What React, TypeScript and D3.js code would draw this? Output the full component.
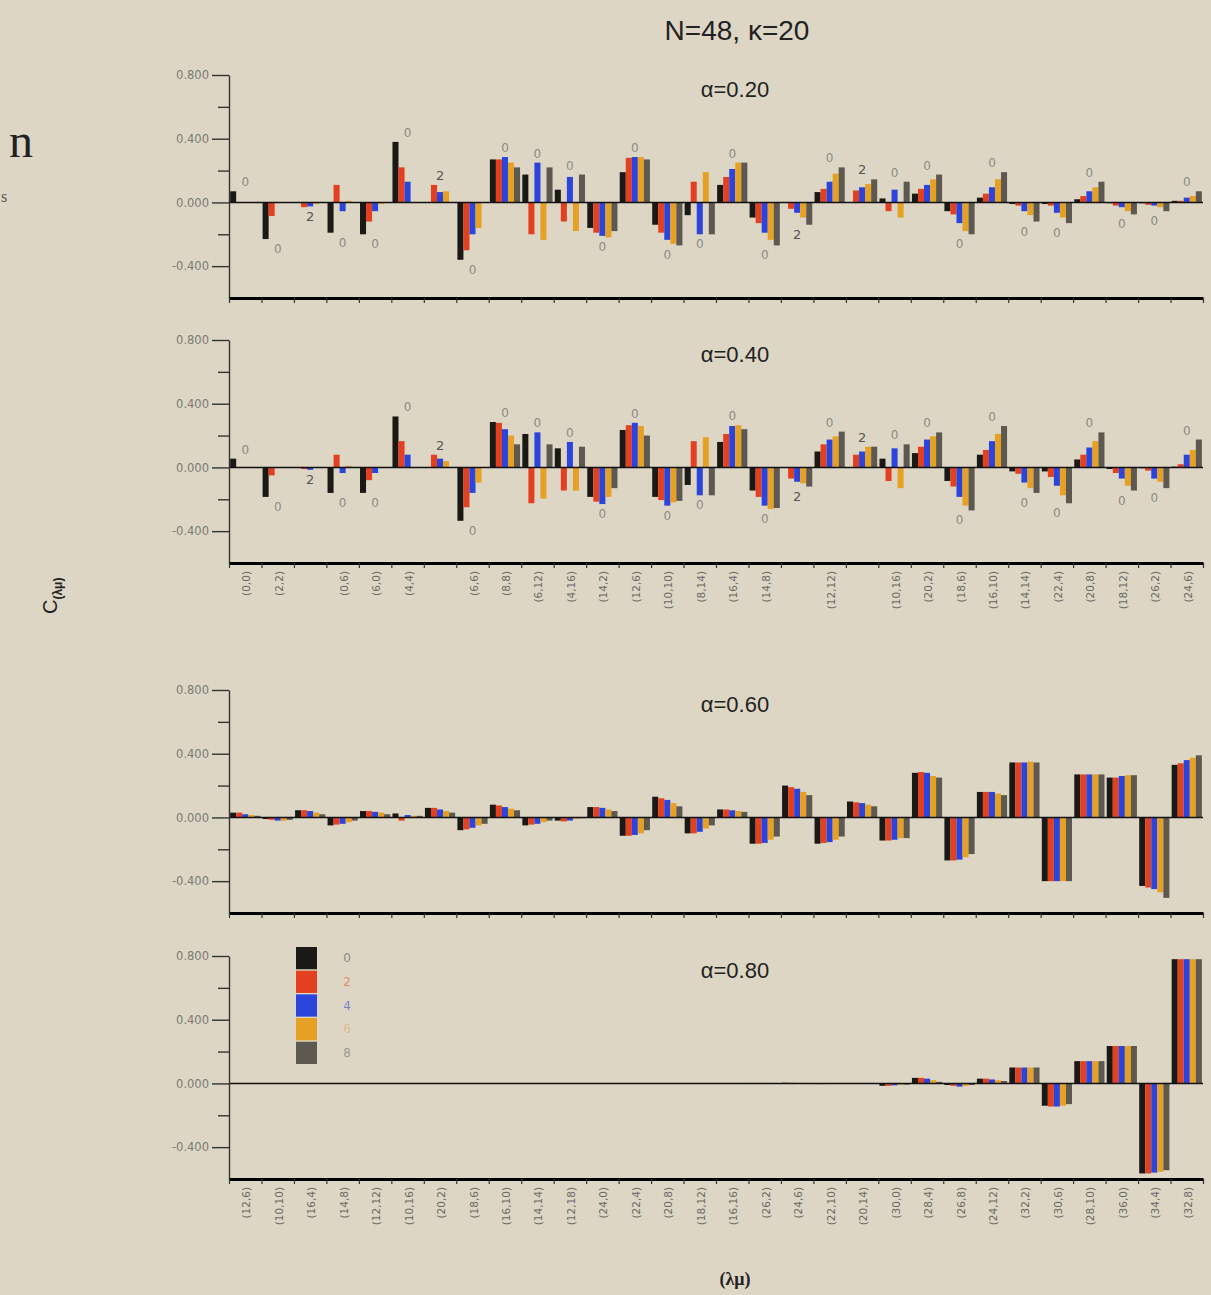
import { useEffect, useRef } from 'react';
import * as d3 from 'd3';

// legend series (colour order inside every group)
const series = ['0', '2', '4', '6', '8'];
const seriesColors = ['#1b1915', '#e2401f', '#2b44dc', '#e6a024', '#5d5850'];
const legendTextColors = ['#8a8a88', '#d9906e', '#7f7fce', '#d8c08a', '#9a9890'];

const topLabels = [
  '(0,0)', '(2,2)', '', '(0,6)', '(6,0)', '(4,4)', '', '(6,6)', '(8,8)', '(6,12)',
  '(4,16)', '(14,2)', '(12,6)', '(10,10)', '(8,14)', '(16,4)', '(14,8)', '', '(12,12)', '',
  '(10,16)', '(20,2)', '(18,6)', '(16,10)', '(14,14)', '(22,4)', '(20,8)', '(18,12)', '(26,2)', '(24,6)',
];

const bottomLabels = [
  '(12,6)', '(10,10)', '(16,4)', '(14,8)', '(12,12)', '(10,16)', '(20,2)', '(18,6)', '(16,10)', '(14,14)',
  '(12,18)', '(24,0)', '(22,4)', '(20,8)', '(18,12)', '(16,16)', '(26,2)', '(24,6)', '(22,10)', '(20,14)',
  '(30,0)', '(28,4)', '(26,8)', '(24,12)', '(32,2)', '(30,6)', '(28,10)', '(36,0)', '(34,4)', '(32,8)',
];

const yMajor = [0.8, 0.4, 0, -0.4];
const yMinor = [0.6, 0.2, -0.2];

const alpha020 = [
  [0.07, 0, 0, 0, 0], [-0.23, -0.085, 0, 0, 0], [0, -0.03, -0.025, -0.01, 0],
  [-0.19, 0.11, -0.055, 0.01, 0], [-0.2, -0.12, -0.055, -0.01, 0], [0.38, 0.22, 0.13, 0, 0],
  [0, 0.11, 0.065, 0.07, 0], [-0.36, -0.3, -0.2, -0.16, 0], [0.27, 0.27, 0.285, 0.25, 0.22],
  [0.175, -0.2, 0.25, -0.235, 0.22], [0.08, -0.12, 0.16, -0.18, 0.175], [-0.16, -0.19, -0.21, -0.22, -0.18],
  [0.19, 0.28, 0.285, 0.285, 0.27], [-0.14, -0.19, -0.235, -0.26, -0.27], [-0.08, 0.13, -0.2, 0.19, -0.2],
  [0.11, 0.16, 0.21, 0.25, 0.25], [-0.095, -0.13, -0.19, -0.235, -0.27], [0, -0.04, -0.065, -0.095, -0.14],
  [0.065, 0.085, 0.13, 0.18, 0.22], [0, 0.075, 0.095, 0.115, 0.145], [0.025, -0.055, 0.08, -0.095, 0.13],
  [0.055, 0.085, 0.11, 0.145, 0.175], [-0.055, -0.075, -0.13, -0.18, -0.2], [0.03, 0.055, 0.095, 0.145, 0.19],
  [-0.01, -0.02, -0.055, -0.08, -0.12], [-0.01, -0.02, -0.065, -0.095, -0.13], [0.02, 0.04, 0.07, 0.095, 0.13],
  [-0.005, -0.02, -0.03, -0.055, -0.075], [-0.005, -0.015, -0.02, -0.03, -0.055], [0.01, 0.01, 0.03, 0.04, 0.07],
];

const alpha040 = [
  [0.055, 0, 0, 0, 0], [-0.185, -0.05, 0, 0, 0], [0, -0.01, -0.015, 0, 0],
  [-0.16, 0.08, -0.035, 0.01, 0], [-0.16, -0.08, -0.035, 0, 0], [0.32, 0.165, 0.08, 0, 0],
  [0, 0.08, 0.055, 0.04, 0], [-0.335, -0.25, -0.16, -0.095, 0], [0.285, 0.28, 0.24, 0.2, 0.145],
  [0.21, -0.225, 0.22, -0.195, 0.145], [0.12, -0.145, 0.16, -0.145, 0.13], [-0.185, -0.215, -0.23, -0.185, -0.13],
  [0.235, 0.265, 0.28, 0.26, 0.2], [-0.185, -0.205, -0.24, -0.22, -0.21], [-0.11, 0.165, -0.175, 0.19, -0.175],
  [0.16, 0.21, 0.26, 0.265, 0.24], [-0.145, -0.185, -0.24, -0.26, -0.255], [0, -0.07, -0.09, -0.1, -0.12],
  [0.1, 0.145, 0.175, 0.195, 0.225], [0, 0.08, 0.1, 0.13, 0.13], [0.055, -0.085, 0.12, -0.13, 0.145],
  [0.09, 0.13, 0.175, 0.195, 0.22], [-0.085, -0.12, -0.185, -0.24, -0.27], [0.08, 0.11, 0.165, 0.21, 0.26],
  [-0.025, -0.04, -0.095, -0.13, -0.16], [-0.025, -0.06, -0.115, -0.175, -0.225], [0.05, 0.08, 0.125, 0.165, 0.22],
  [-0.01, -0.035, -0.07, -0.115, -0.145], [-0.005, -0.02, -0.07, -0.09, -0.13], [0.005, 0.02, 0.08, 0.11, 0.175],
];

const alpha060 = [
  [0.03, 0.03, 0.02, 0.015, 0.01], [-0.01, -0.015, -0.02, -0.02, -0.015], [0.045, 0.045, 0.04, 0.03, 0.02],
  [-0.05, -0.045, -0.04, -0.03, -0.02], [0.04, 0.04, 0.035, 0.03, 0.02], [0.025, -0.02, 0.015, 0.01, 0.01],
  [0.06, 0.06, 0.05, 0.04, 0.03], [-0.08, -0.075, -0.065, -0.05, -0.04], [0.08, 0.075, 0.065, 0.055, 0.045],
  [-0.05, -0.045, -0.04, -0.03, -0.02], [-0.02, -0.025, -0.02, -0.01, -0.005], [0.065, 0.065, 0.06, 0.05, 0.04],
  [-0.115, -0.115, -0.11, -0.1, -0.08], [0.13, 0.12, 0.11, 0.09, 0.07], [-0.1, -0.1, -0.09, -0.07, -0.05],
  [0.05, 0.05, 0.045, 0.04, 0.035], [-0.165, -0.165, -0.16, -0.14, -0.12], [0.2, 0.19, 0.18, 0.16, 0.14],
  [-0.165, -0.16, -0.155, -0.14, -0.12], [0.1, 0.095, 0.09, 0.08, 0.07], [-0.145, -0.145, -0.14, -0.13, -0.13],
  [0.28, 0.285, 0.28, 0.26, 0.25], [-0.27, -0.27, -0.265, -0.25, -0.23], [0.16, 0.16, 0.16, 0.15, 0.14],
  [0.345, 0.345, 0.345, 0.35, 0.345], [-0.4, -0.4, -0.4, -0.4, -0.4], [0.27, 0.27, 0.27, 0.27, 0.27],
  [0.25, 0.25, 0.26, 0.265, 0.265], [-0.43, -0.44, -0.45, -0.47, -0.505], [0.33, 0.34, 0.36, 0.375, 0.39],
];

const alpha080 = [
  [0, 0, 0, 0, 0], [0, 0, 0, 0, 0], [0, 0, 0, 0, 0], [0, 0, 0, 0, 0], [0, 0, 0, 0, 0],
  [0, 0, 0, 0, 0], [0, 0, 0, 0, 0], [0, 0, 0, 0, 0], [0, 0, 0, 0, 0], [0, 0, 0, 0, 0],
  [0, 0, 0, 0, 0], [0, 0, 0, 0, 0], [0, 0, 0, 0, 0], [0, 0, 0, 0, 0], [0, 0, 0, 0, 0],
  [0, 0, 0, 0, 0], [0.003, 0.003, 0.003, 0.002, 0.002], [0.004, 0.004, 0.003, 0.003, 0.002],
  [-0.004, -0.004, -0.003, -0.003, -0.002], [0.003, 0.003, 0.003, 0.002, 0.002],
  [-0.015, -0.015, -0.012, -0.01, -0.008], [0.035, 0.035, 0.03, 0.02, 0.01],
  [-0.01, -0.015, -0.02, -0.015, -0.01], [0.03, 0.03, 0.025, 0.02, 0.015],
  [0.1, 0.1, 0.1, 0.1, 0.1], [-0.14, -0.145, -0.145, -0.14, -0.13],
  [0.14, 0.14, 0.14, 0.14, 0.14], [0.235, 0.235, 0.235, 0.235, 0.235],
  [-0.565, -0.565, -0.56, -0.555, -0.545], [0.78, 0.78, 0.78, 0.78, 0.78],
];

// [slot, text, side] annotations on the two upper panels
const notes: [number, string, string][] = [
  [0, '0', 'up'], [1, '0', 'down'], [2, '2', 'down'], [3, '0', 'down'], [4, '0', 'down'],
  [5, '0', 'up'], [6, '2', 'up'], [7, '0', 'down'], [8, '0', 'up'], [9, '0', 'up'],
  [10, '0', 'up'], [11, '0', 'down'], [12, '0', 'up'], [13, '0', 'down'], [14, '0', 'down'],
  [15, '0', 'up'], [16, '0', 'down'], [17, '2', 'down'], [18, '0', 'up'], [19, '2', 'up'],
  [20, '0', 'up'], [21, '0', 'up'], [22, '0', 'down'], [23, '0', 'up'], [24, '0', 'down'],
  [25, '0', 'down'], [26, '0', 'up'], [27, '0', 'down'], [28, '0', 'down'], [29, '0', 'up'],
];

const panels = [
  { title: 'α=0.20', values: alpha020, notes, labels: null as string[] | null, top: 75, legend: false },
  { title: 'α=0.40', values: alpha040, notes, labels: topLabels, top: 340, legend: false },
  { title: 'α=0.60', values: alpha060, notes: [] as [number, string, string][], labels: null, top: 690, legend: false },
  { title: 'α=0.80', values: alpha080, notes: [] as [number, string, string][], labels: bottomLabels, top: 956, legend: true },
];

export default function App() {
  const svgRef = useRef<SVGSVGElement>(null);

  useEffect(() => {
    document.body.style.margin = '0';
    document.body.style.background = '#ddd6c4';
    if (!svgRef.current) return;

    const W = 1211, H = 1295;
    const left = 229, right = 1203, ph = 223;
    const svg = d3.select(svgRef.current);
    svg.selectAll('*').remove();

    svg.append('rect').attr('width', W).attr('height', H).attr('fill', '#ddd6c4');

    const x0 = d3.scaleBand<number>().domain(d3.range(30)).range([left, right]).paddingInner(0.07).paddingOuter(0.035);
    const x1 = d3.scaleBand<number>().domain(d3.range(series.length)).range([0, x0.bandwidth()]);
    const xb = d3.scaleLinear().domain([0, 30]).range([left, right]);

    // title
    svg.append('text')
      .attr('x', 737).attr('y', 40)
      .attr('text-anchor', 'middle')
      .attr('font-family', 'Liberation Sans, Arial, sans-serif')
      .attr('font-size', 28).attr('fill', '#222')
      .text('N=48, κ=20');

    panels.forEach(p => {
      const y = d3.scaleLinear().domain([-0.6, 0.8]).range([p.top + ph, p.top]);
      const g = svg.append('g');

      // bars
      p.values.forEach((group, i) => {
        g.selectAll(null)
          .data(group)
          .enter().append('rect')
          .attr('x', (_, j) => (x0(i) as number) + (x1(j) as number))
          .attr('width', x1.bandwidth())
          .attr('y', d => y(Math.max(0, d)))
          .attr('height', d => Math.abs(y(d) - y(0)))
          .attr('fill', (_, j) => seriesColors[j]);
      });

      // zero line
      g.append('line')
        .attr('x1', left).attr('x2', right)
        .attr('y1', y(0)).attr('y2', y(0))
        .attr('stroke', '#111').attr('stroke-width', 1.6);

      // y axis
      const ya = g.append('g')
        .attr('transform', `translate(${left},0)`)
        .call(d3.axisLeft(y).tickValues(yMajor).tickSize(17).tickSizeOuter(0).tickFormat(d => (d as number).toFixed(3)));
      ya.select('.domain').attr('stroke', '#333').attr('stroke-width', 1.4);
      ya.selectAll('line').attr('stroke', '#333').attr('stroke-width', 1.4);
      ya.selectAll('text')
        .attr('fill', '#7a7a76')
        .attr('font-size', 11.5)
        .attr('font-family', 'DejaVu Sans, sans-serif');

      const ym = g.append('g')
        .attr('transform', `translate(${left},0)`)
        .call(d3.axisLeft(y).tickValues(yMinor).tickSize(11).tickFormat(() => ''));
      ym.select('.domain').remove();
      ym.selectAll('line').attr('stroke', '#333').attr('stroke-width', 1.4);

      // bottom axis
      const xa = g.append('g')
        .attr('transform', `translate(0,${y(-0.6)})`)
        .call(d3.axisBottom(xb).tickValues(d3.range(31)).tickSize(5).tickSizeOuter(0).tickFormat(() => ''));
      xa.select('.domain').attr('stroke', '#000').attr('stroke-width', 3);
      xa.selectAll('line').attr('stroke', '#333').attr('stroke-width', 1.2);

      // category labels
      if (p.labels) {
        g.selectAll(null)
          .data(p.labels)
          .enter().append('text')
          .attr('transform', (_, i) => `translate(${(x0(i) as number) + x0.bandwidth() / 2 + 1},${y(-0.6) + 8}) rotate(-90)`)
          .attr('text-anchor', 'end')
          .attr('dominant-baseline', 'central')
          .attr('font-family', 'DejaVu Sans, sans-serif')
          .attr('font-size', 10.5)
          .attr('fill', '#6a6a66')
          .text(d => d);
      }

      // "0" / "2" annotations
      g.selectAll(null)
        .data(p.notes)
        .enter().append('text')
        .attr('x', d => (x0(d[0]) as number) + x0.bandwidth() / 2)
        .attr('y', d => {
          const grp = p.values[d[0]];
          return d[2] === 'up' ? y(d3.max(grp) as number) - 5 : y(d3.min(grp) as number) + 14;
        })
        .attr('text-anchor', 'middle')
        .attr('font-family', 'DejaVu Sans, sans-serif')
        .attr('font-size', d => (d[1] === '2' ? 13 : 12))
        .attr('fill', d => (d[1] === '2' ? '#555' : '#8c8a84'))
        .text(d => d[1]);

      // panel title
      svg.append('text')
        .attr('x', 735).attr('y', p.top + 22)
        .attr('text-anchor', 'middle')
        .attr('font-family', 'Liberation Sans, Arial, sans-serif')
        .attr('font-size', 22).attr('fill', '#222')
        .text(p.title);

      if (p.legend) {
        const ly = d3.scaleBand<string>().domain(series).range([947, 1064]).paddingInner(0.06);
        const lg = svg.append('g');
        lg.selectAll(null).data(series).enter().append('rect')
          .attr('x', 296).attr('width', 21)
          .attr('y', d => ly(d) as number)
          .attr('height', ly.bandwidth())
          .attr('fill', (_, j) => seriesColors[j]);
        lg.selectAll(null).data(series).enter().append('text')
          .attr('x', 347)
          .attr('y', d => (ly(d) as number) + ly.bandwidth() / 2)
          .attr('dominant-baseline', 'central')
          .attr('text-anchor', 'middle')
          .attr('font-family', 'DejaVu Sans, sans-serif')
          .attr('font-size', 12)
          .attr('fill', (_, j) => legendTextColors[j])
          .text(d => d);
      }
    });

    // y axis label
    const yl = svg.append('text')
      .attr('transform', 'translate(57,614) rotate(-90)')
      .attr('font-family', 'Liberation Sans, Arial, sans-serif')
      .attr('fill', '#222');
    yl.append('tspan').attr('font-size', 20).text('C');
    yl.append('tspan').attr('font-size', 12).attr('font-weight', 'bold').attr('dy', 5).text('(λμ)');

    // x axis label
    svg.append('text')
      .attr('x', 735).attr('y', 1285)
      .attr('text-anchor', 'middle')
      .attr('font-family', 'Liberation Serif, serif')
      .attr('font-weight', 'bold')
      .attr('font-size', 18).attr('fill', '#222')
      .text('(λμ)');

    // slide text at the left edge
    svg.append('text')
      .attr('x', 9).attr('y', 157)
      .attr('font-family', 'Liberation Serif, serif')
      .attr('font-size', 48).attr('fill', '#222')
      .text('n');
    svg.append('text')
      .attr('x', 1).attr('y', 202)
      .attr('font-family', 'Liberation Serif, serif')
      .attr('font-size', 16).attr('fill', '#555')
      .text('s');
  }, []);

  return <svg ref={svgRef} width={1211} height={1295} style={{ display: 'block' }} />;
}
